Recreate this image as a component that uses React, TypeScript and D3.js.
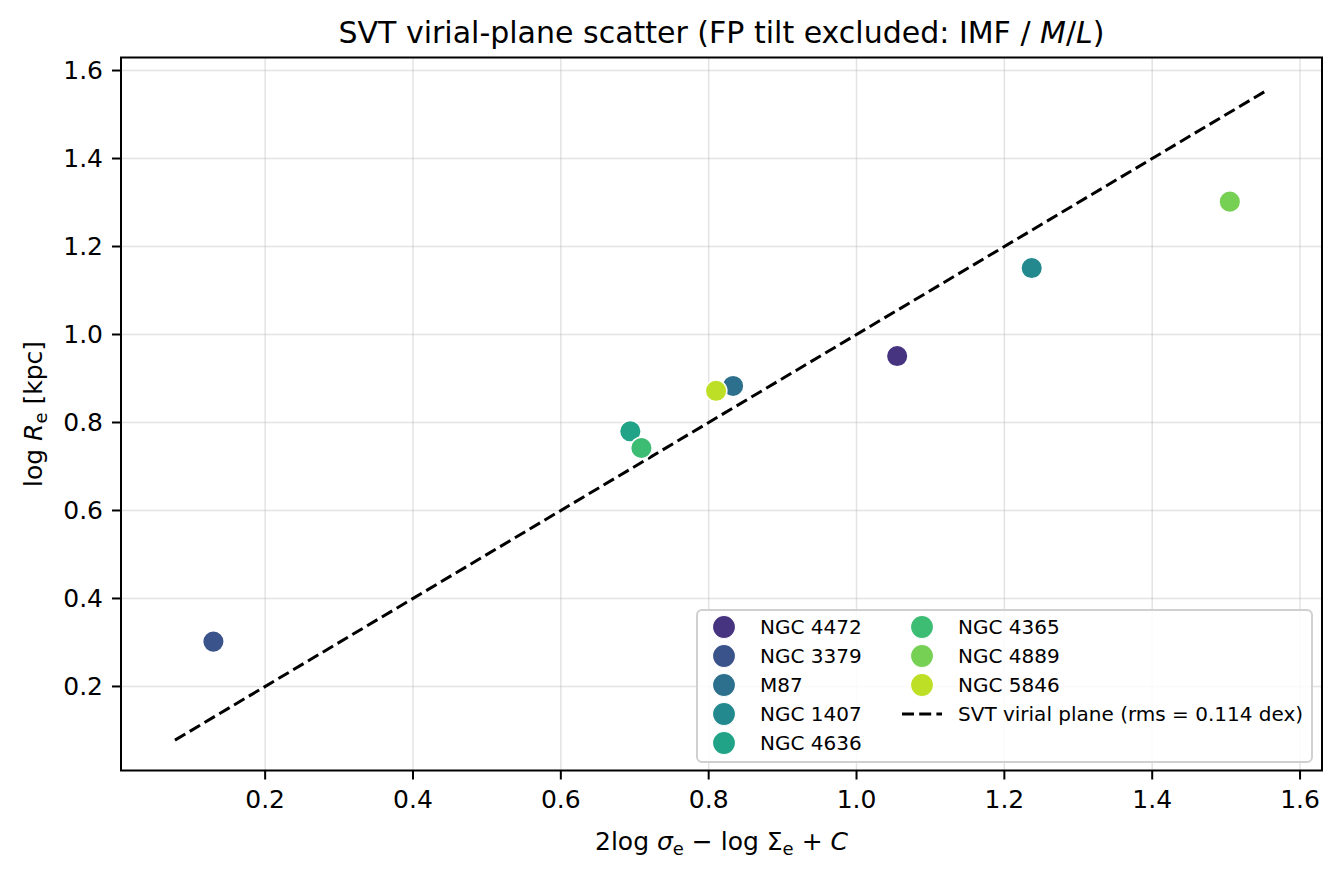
import React from "react";
import * as d3 from "d3";

const galaxies = ["NGC 4472", "NGC 3379", "M87", "NGC 1407", "NGC 4636", "NGC 4365", "NGC 4889", "NGC 5846"];
const xValues = [1.055, 0.130, 0.833, 1.237, 0.694, 0.709, 1.505, 0.810];
const yValues = [0.951, 0.302, 0.883, 1.151, 0.780, 0.742, 1.302, 0.872];
const lineX = [0.078, 1.556];
const ticks = [0.2, 0.4, 0.6, 0.8, 1.0, 1.2, 1.4, 1.6];

const W = 1340;
const H = 876;
const margin = { top: 57.5, right: 18, bottom: 105.5, left: 121 };
const font = "DejaVu Sans, sans-serif";
const dash = "12,5.2";

export default function App() {
  const innerW = W - margin.left - margin.right;
  const innerH = H - margin.top - margin.bottom;
  const x = d3.scaleLinear().domain([0.005, 1.6297]).range([0, innerW]);
  const y = d3.scaleLinear().domain([0.009, 1.6296]).range([innerH, 0]);
  const colors = galaxies.map((_, i) => d3.interpolateViridis(0.15 + (0.75 * i) / (galaxies.length - 1)));

  const fitLine = d3.line<number>().x((d) => x(d)).y((d) => y(d));

  const legendX = 697 - margin.left;
  const legendY = 610 - margin.top;
  const rowH = 29;
  const legendItems = [
    ...galaxies.map((g, i) => ({ label: g, color: colors[i], kind: "dot" })),
    { label: "SVT virial plane (rms = 0.114 dex)", color: "#000", kind: "line" },
  ];

  return (
    <svg width={W} height={H} style={{ position: "absolute", left: 0, top: 0, fontFamily: font }}>
      <rect width={W} height={H} fill="#fff" />
      <text x={margin.left + innerW / 2} y={43} textAnchor="middle" fontSize={30}>
        SVT virial-plane scatter (FP tilt excluded: IMF / <tspan fontStyle="italic">M</tspan>/<tspan fontStyle="italic">L</tspan>)
      </text>
      <g transform={`translate(${margin.left},${margin.top})`}>
        {ticks.map((t) => (
          <g key={"g" + t}>
            <line x1={x(t)} x2={x(t)} y1={0} y2={innerH} stroke="#b0b0b0" strokeOpacity={0.35} strokeWidth={1.5} />
            <line x1={0} x2={innerW} y1={y(t)} y2={y(t)} stroke="#b0b0b0" strokeOpacity={0.35} strokeWidth={1.5} />
          </g>
        ))}
        <path d={fitLine(lineX) || ""} fill="none" stroke="#000" strokeWidth={3} strokeDasharray={dash} />
        {galaxies.map((g, i) => (
          <circle key={g} cx={x(xValues[i])} cy={y(yValues[i])} r={10.8} fill={colors[i]} stroke="#fff" strokeWidth={1.5} />
        ))}
        <rect x={0} y={0} width={innerW} height={innerH} fill="none" stroke="#000" strokeWidth={2} />
        {ticks.map((t) => (
          <g key={"x" + t} transform={`translate(${x(t)},${innerH})`}>
            <line y2={9} stroke="#000" strokeWidth={2} />
            <text y={37} textAnchor="middle" fontSize={25}>{d3.format(".1f")(t)}</text>
          </g>
        ))}
        {ticks.map((t) => (
          <g key={"y" + t} transform={`translate(0,${y(t)})`}>
            <line x2={-9} stroke="#000" strokeWidth={2} />
            <text x={-18} dy="0.35em" textAnchor="end" fontSize={25}>{d3.format(".1f")(t)}</text>
          </g>
        ))}
        <g transform={`translate(${legendX},${legendY})`}>
          <rect x={0} y={0} width={615} height={152} rx={5} fill="#fff" fillOpacity={0.85} stroke="#d0d0d0" strokeWidth={2} />
          {legendItems.map((it, i) => {
            const col = i < 5 ? 0 : 1;
            const row = i < 5 ? i : i - 5;
            const cx = col === 0 ? 27 : 225;
            const cy = 17 + row * rowH;
            return (
              <g key={it.label}>
                {it.kind === "dot" ? (
                  <circle cx={cx} cy={cy} r={11.5} fill={it.color} stroke="#fff" strokeWidth={1.2} />
                ) : (
                  <line x1={cx - 20} x2={cx + 20} y1={cy} y2={cy} stroke="#000" strokeWidth={3} strokeDasharray={dash} />
                )}
                <text x={cx + 36} y={cy} dy="0.35em" fontSize={20}>{it.label}</text>
              </g>
            );
          })}
        </g>
      </g>
      <text x={margin.left + innerW / 2} y={850} textAnchor="middle" fontSize={25}>
        2log <tspan fontStyle="italic">σ</tspan><tspan fontSize={18} dy={5}>e</tspan><tspan dy={-5}> − log Σ</tspan><tspan fontSize={18} dy={5}>e</tspan><tspan dy={-5}> + </tspan><tspan fontStyle="italic">C</tspan>
      </text>
      <text transform={`translate(42,${margin.top + innerH / 2}) rotate(-90)`} textAnchor="middle" fontSize={25}>
        log <tspan fontStyle="italic">R</tspan><tspan fontSize={18} dy={5}>e</tspan><tspan dy={-5}> [kpc]</tspan>
      </text>
    </svg>
  );
}
